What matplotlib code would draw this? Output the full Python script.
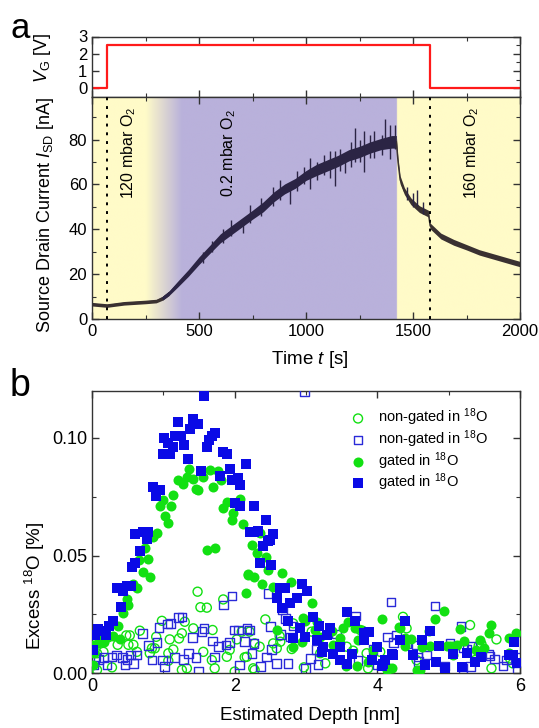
import matplotlib
matplotlib.use('Agg')
import matplotlib.pyplot as plt
from matplotlib.ticker import MultipleLocator, FormatStrFormatter
import numpy as np

plt.rcParams['font.family'] = ['Liberation Sans', 'DejaVu Sans']
plt.rcParams['mathtext.fontset'] = 'custom'
plt.rcParams['mathtext.rm'] = 'Liberation Sans'
plt.rcParams['mathtext.it'] = 'Liberation Sans:italic'
plt.rcParams['mathtext.bf'] = 'Liberation Sans:bold'

# --- panel a: gate voltage steps ---
vg_t = [0, 72, 72, 1580, 1580, 2000]
vg_v = [0, 0, 2.5, 2.5, 0, 0]

# --- panel a: source drain current ---
t_s = [0, 70, 150, 250, 300, 330, 360, 400, 450, 500,
       550, 600, 650, 700, 750, 800, 850, 900, 950, 1000,
       1050, 1100, 1150, 1200, 1250, 1300, 1350, 1400, 1422, 1430,
       1440, 1460, 1490, 1530, 1572, 1580, 1630, 1690, 1750, 1810,
       1890, 1970, 2000]
I_nA = [6.6, 6.0, 7.0, 7.6, 8.0, 9.3, 11.5, 15.5, 20.5, 26,
        31, 36, 39.5, 43, 46.5, 50, 54.5, 58, 60.5, 64,
        66.5, 68.5, 70.5, 73, 74.5, 76.5, 78, 79, 79, 70,
        62, 57, 52.5, 49, 47, 41.5, 37, 34.2, 32, 29.7,
        27.5, 25.3, 24.5]
noise = [0.8, 0.8, 0.8, 0.8, 0.8, 0.9, 1.0, 1.3, 1.5, 1.7,
         1.8, 2, 2, 2, 2, 2.2, 2.2, 2.2, 2.2, 2.2,
         2.5, 2.5, 2.5, 2.5, 2.5, 2.5, 2.5, 2.8, 2.8, 2,
         1.8, 1.5, 1.5, 1.5, 1.5, 1.3, 1.3, 1.3, 1.2, 1.2,
         1.2, 1.2, 1.2]
spike_t = [520, 560, 610, 650, 707, 740, 790, 847, 880, 925,
           960, 990, 1018, 1050, 1085, 1110, 1136, 1160, 1181, 1210,
           1229, 1250, 1271, 1300, 1320, 1354, 1369, 1393, 1416, 1470,
           1500, 1517, 1545]
spike_lo = [25, 30, 34, 37, 38.5, 43, 46, 50.5, 53, 51.5,
            57, 60, 58, 62, 64, 63, 59.5, 66, 65, 68,
            70, 70, 65.5, 72, 72, 73, 77, 71.5, 76, 53,
            50, 50.5, 47]
spike_hi = [30, 35, 40, 44, 43.5, 51, 54, 59, 62, 60,
            66, 68, 72, 70, 73, 75, 75, 76, 74, 79,
            85, 80, 84, 82, 84, 82, 89, 86.5, 86.5, 59,
            56, 57.5, 52]

dotted_t = [72, 1580]
gas_labels = ['120 mbar O$_2$', '0.2 mbar O$_2$', '160 mbar O$_2$']
gas_label_t = [172, 640, 1775]

# --- panel b: SIMS excess 18O ---
ng_circ_x = [0.07, 0.07, 0.16, 0.28, 0.36, 0.48, 0.51, 0.53, 0.58, 0.63, 0.67, 0.81, 0.84, 0.88,
             0.90, 0.98, 1.07, 1.07, 1.09, 1.14, 1.22, 1.26, 1.26, 1.30, 1.33, 1.42, 1.48, 1.52,
             1.56, 1.61, 1.68, 1.69, 1.72, 1.84, 1.89, 1.93, 2.00, 2.03, 2.10, 2.14, 2.17, 2.21,
             2.26, 2.28, 2.28, 2.35, 2.43, 2.54, 2.59, 2.63, 2.64, 2.80, 2.82, 2.97, 3.08, 3.20,
             3.27, 3.48, 3.57, 3.66, 3.76, 3.85, 3.87, 4.04, 4.36, 4.41, 4.55, 5.07, 5.30, 5.37,
             5.42, 5.46, 5.60, 5.67, 5.86, 5.90]
ng_circ_y = [0.0013, 0.0084, 0.009, 0.0024, 0.012, 0.016, 0.012, 0.016, 0.012, 0.009, 0.018, 0.0084, 0.0105, 0.0105,
             0.0154, 0.0222, 0.0084, 0.0052, 0.0143, 0.010, 0.0147, 0.0013, 0.0169, 0.0218, 0.002, 0.019, 0.0346, 0.028,
             0.009, 0.0278, 0.0055, 0.0183, 0.002, 0.0313, 0.0069, 0.0098, 0.0006, 0.0143, 0.0176, 0.0067, 0.0069, 0.0176,
             0.002, 0.0126, 0.0013, 0.0112, 0.0228, 0.0126, 0.0105, 0.0157, 0.0133, 0.0102, 0.0211, 0.0024, 0.0176, 0.0084,
             0.0041, 0.0126, 0.0112, 0.0095, 0.0183, 0.0084, 0.002, 0.009, 0.0239, 0.019, 0.0055, 0.0112, 0.0204, 0.0055,
             0.0115, 0.0123, 0.002, 0.0143, 0.0062, 0.0041]

ng_sq_x = [0.03, 0.04, 0.09, 0.17, 0.21, 0.28, 0.34, 0.43, 0.46, 0.49, 0.54, 0.58, 0.63, 0.71, 0.79, 0.84,
           0.91, 0.94, 0.99, 1.02, 1.06, 1.10, 1.16, 1.21, 1.26, 1.28, 1.35, 1.41, 1.46, 1.49, 1.54, 1.57,
           1.69, 1.72, 1.77, 1.84, 1.88, 1.93, 1.96, 1.99, 2.05, 2.07, 2.14, 2.17, 2.21, 2.24, 2.27, 2.36,
           2.45, 2.47, 2.50, 2.52, 2.59, 2.64, 2.67, 2.71, 2.75, 2.78, 2.82, 2.98, 2.99, 3.06, 3.14, 3.17,
           3.43, 3.69, 3.73, 3.94, 4.00, 4.14, 4.19, 4.23, 4.27, 4.41, 4.55, 4.57, 4.58, 4.69, 4.81, 4.94,
           5.02, 5.17, 5.20, 5.21, 5.26, 5.31, 5.32, 5.56, 5.58, 5.64, 5.76, 5.81, 5.95, 5.96]
ng_sq_y = [0.0034, 0.0062, 0.0058, 0.0065, 0.0034, 0.0069, 0.0077, 0.0067, 0.0034, 0.0058, 0.0077, 0.0041, 0.0077, 0.0169, 0.0116, 0.0055,
           0.013, 0.0193, 0.0055, 0.0027, 0.0208, 0.0211, 0.0065, 0.0237, 0.0239, 0.0058, 0.0084, 0.0152, 0.0067, 0.0006, 0.0176, 0.019,
           0.0136, 0.0069, 0.0112, 0.0289, 0.0119, 0.013, 0.0327, 0.0183, 0.0183, 0.0034, 0.0133, 0.019, 0.0183, 0.0084, 0.0126, 0.0027,
           0.0069, 0.0339, 0.0197, 0.010, 0.0041, 0.0164, 0.0268, 0.0232, 0.0041, 0.0154, 0.020, 0.1195, 0.002, 0.0062, 0.010, 0.0037,
           0.0166, 0.0242, 0.0052, 0.010, 0.0034, 0.0154, 0.0303, 0.0129, 0.0161, 0.0126, 0.0119, 0.0069, 0.0048, 0.0076, 0.0285, 0.003,
           0.0126, 0.0197, 0.002, 0.0109, 0.010, 0.0027, 0.0115, 0.0081, 0.0072, 0.006, 0.003, 0.0055, 0.0069, 0.0006]

g_circ_x = [0.01, 0.02, 0.03, 0.09, 0.11, 0.16, 0.17, 0.23, 0.30, 0.36, 0.39, 0.44, 0.49, 0.50, 0.58, 0.63,
            0.66, 0.71, 0.74, 0.78, 0.82, 0.85, 0.91, 0.96, 0.99, 1.02, 1.06, 1.11, 1.14, 1.20, 1.27, 1.33,
            1.36, 1.42, 1.46, 1.49, 1.55, 1.61, 1.65, 1.69, 1.73, 1.77, 1.81, 1.84, 1.89, 1.96, 1.98, 2.07,
            2.12, 2.16, 2.18, 2.19, 2.24, 2.27, 2.31, 2.35, 2.39, 2.44, 2.47, 2.54, 2.59, 2.66, 2.79, 2.82,
            2.94, 2.96, 2.98, 3.09, 3.12, 3.15, 3.19, 3.36, 3.38, 3.48, 3.52, 3.56, 3.59, 3.69, 3.71, 3.73,
            3.78, 3.80, 3.87, 3.94, 4.07, 4.13, 4.16, 4.21, 4.30, 4.32, 4.39, 4.39, 4.47, 4.55, 4.60, 4.62,
            4.73, 4.74, 4.81, 4.93, 4.97, 5.02, 5.06, 5.11, 5.16, 5.21, 5.38, 5.44, 5.50, 5.57, 5.60, 5.84,
            5.84, 5.95]
g_circ_y = [0.0034, 0.012, 0.0086, 0.0126, 0.0147, 0.0147, 0.013, 0.0154, 0.0157, 0.020, 0.0143, 0.0256, 0.0317, 0.029, 0.038, 0.036,
            0.048, 0.043, 0.053, 0.0487, 0.0407, 0.058, 0.0594, 0.071, 0.0735, 0.0667, 0.064, 0.071, 0.0756, 0.0823, 0.0806, 0.0834,
            0.087, 0.0827, 0.0785, 0.078, 0.0834, 0.0523, 0.0863, 0.0792, 0.0534, 0.086, 0.082, 0.070, 0.0728, 0.065, 0.068, 0.0742,
            0.0636, 0.0342, 0.0416, 0.042, 0.0544, 0.041, 0.0511, 0.0594, 0.038, 0.0494, 0.0438, 0.0364, 0.0183, 0.0424, 0.0388, 0.0112,
            0.0133, 0.0232, 0.0222, 0.030, 0.0183, 0.0218, 0.0152, 0.018, 0.0119, 0.015, 0.019, 0.003, 0.0218, 0.019, 0.003, 0.014,
            0.0183, 0.0176, 0.0048, 0.0098, 0.0228, 0.0013, 0.002, 0.002, 0.0197, 0.019, 0.0147, 0.0115, 0.0146, 0.0013, 0.0013, 0.0112,
            0.018, 0.0115, 0.0228, 0.0265, 0.0115, 0.0115, 0.0076, 0.0119, 0.0187, 0.0137, 0.0098, 0.014, 0.0105, 0.0169, 0.0204, 0.015,
            0.0084, 0.0169]

g_sq_x = [0.01, 0.04, 0.09, 0.16, 0.20, 0.24, 0.30, 0.35, 0.40, 0.43, 0.49, 0.55, 0.56, 0.60, 0.67, 0.60,
          0.71, 0.79, 0.77, 0.85, 0.90, 0.95, 0.99, 1.01, 1.06, 1.09, 1.14, 1.17, 1.21, 1.25, 1.29, 1.34,
          1.37, 1.41, 1.49, 1.53, 1.57, 1.61, 1.64, 1.68, 1.72, 1.80, 1.84, 1.89, 1.93, 1.96, 2.04, 2.07,
          2.00, 2.08, 2.16, 2.27, 2.21, 2.27, 2.33, 2.36, 2.40, 2.44, 2.47, 2.51, 2.54, 2.50, 2.59, 2.64,
          2.70, 2.67, 2.78, 2.75, 2.87, 2.94, 3.02, 2.91, 2.82, 2.99, 3.10, 3.18, 3.15, 3.24, 3.22, 3.30,
          3.34, 3.38, 3.47, 3.48, 3.57, 3.58, 3.64, 3.69, 3.81, 3.82, 3.89, 3.92, 3.99, 4.06, 4.08, 4.11,
          4.20, 4.22, 4.32, 4.39, 4.50, 4.63, 4.67, 4.74, 4.82, 4.86, 4.95, 5.06, 5.18, 5.25, 5.37, 5.45,
          5.84, 5.90, 5.92, 5.96]
g_sq_y = [0.010, 0.016, 0.0186, 0.018, 0.016, 0.020, 0.022, 0.036, 0.028, 0.035, 0.037, 0.037, 0.045, 0.047, 0.052, 0.059,
          0.060, 0.060, 0.057, 0.079, 0.0755, 0.078, 0.093, 0.100, 0.098, 0.093, 0.096, 0.101, 0.107, 0.101, 0.097, 0.091,
          0.104, 0.108, 0.106, 0.086, 0.118, 0.096, 0.099, 0.101, 0.102, 0.084, 0.094, 0.093, 0.087, 0.082, 0.083, 0.080,
          0.0725, 0.071, 0.089, 0.071, 0.060, 0.060, 0.0605, 0.047, 0.054, 0.065, 0.056, 0.046, 0.059, 0.0565, 0.032, 0.036,
          0.036, 0.0275, 0.030, 0.022, 0.032, 0.038, 0.035, 0.019, 0.015, 0.0154, 0.024, 0.020, 0.014, 0.011, 0.009, 0.016,
          0.019, 0.008, 0.0055, 0.011, 0.026, 0.004, 0.008, 0.022, 0.014, 0.017, 0.0176, 0.0055, 0.011, 0.003, 0.004, 0.0055,
          0.008, 0.0077, 0.014, 0.022, 0.0077, 0.014, 0.0034, 0.018, 0.0048, 0.0115, 0.002, 0.008, 0.0024, 0.0084, 0.0048, 0.007,
          0.0077, 0.0077, 0.0133, 0.0041]

GREEN = '#12E012'
BLUE = '#0a0ae6'
BLUE_OPEN = '#2a2ad8'
TRACE = '#2b2444'
TRACE_AIR = '#3a3131'
SPINE = '#333333'

fig = plt.figure(figsize=(5.39, 7.28), dpi=100)
W, H = 539, 728
def box(l, t, r, b):
    return [l / W, 1 - b / H, (r - l) / W, (b - t) / H]

ax_v = fig.add_axes(box(92, 36.5, 520, 97))
ax_i = fig.add_axes(box(92, 97, 520, 319))
ax_b = fig.add_axes(box(92, 391, 520, 673))

def style(ax, size):
    for s in ax.spines.values():
        s.set_color(SPINE)
        s.set_linewidth(1.0)
    ax.tick_params(which='both', direction='in', top=True, right=True,
                   colors=SPINE, labelcolor='black', labelsize=size)
    ax.tick_params(which='major', length=5, width=1)
    ax.tick_params(which='minor', length=3, width=0.8)

# gate voltage
ax_v.plot(vg_t, vg_v, color='#ff1a1a', lw=1.6)
ax_v.set_xlim(0, 2000)
ax_v.set_ylim(-0.5, 3)
ax_v.yaxis.set_major_locator(MultipleLocator(1))
ax_v.yaxis.set_minor_locator(MultipleLocator(0.5))
ax_v.xaxis.set_major_locator(MultipleLocator(500))
ax_v.xaxis.set_minor_locator(MultipleLocator(250))
ax_v.set_xticklabels([])
style(ax_v, 12)
ax_v.tick_params(axis='y', which='minor', left=False)
ax_v.set_ylabel('$V_{\\rm G}$ [V]', fontsize=13)
ax_v.yaxis.set_label_coords(-0.09, 0.64)

# background gas regions
yellow = np.array([255, 251, 200]) / 255
purple = np.array([185, 177, 219]) / 255
grid_t = np.arange(0, 2000)
edge_t = [0, 250, 420, 1424, 1425, 2000]
edge_w = [0, 0, 1, 1, 0, 0]
w = np.interp(grid_t, edge_t, edge_w)[None, :, None]
bg = yellow * (1 - w) + purple * w
ax_i.imshow(bg, extent=[0, 2000, 0, 99], aspect='auto', zorder=0, interpolation='bilinear')

t_arr = np.array(t_s)
I_arr = np.array(I_nA)
n_arr = np.array(noise)
for mask, col in [(t_arr <= 360, TRACE_AIR), ((t_arr >= 330) & (t_arr <= 1422), TRACE), (t_arr >= 1422, TRACE_AIR)]:
    ax_i.fill_between(t_arr[mask], I_arr[mask] - n_arr[mask], I_arr[mask] + n_arr[mask], color=col, lw=0, zorder=2)
    ax_i.plot(t_arr[mask], I_arr[mask], color=col, lw=1.0, zorder=2)
ax_i.vlines(spike_t, spike_lo, spike_hi, color=TRACE, lw=1.0, zorder=2)
for tt in dotted_t:
    ax_i.axvline(tt, color='black', ls=(0, (1.5, 3)), lw=1.4, zorder=3)
for lab, tt in zip(gas_labels, gas_label_t):
    ax_i.text(tt, 74, lab, rotation=90, ha='center', va='center', fontsize=11.5, zorder=4)

ax_i.set_xlim(0, 2000)
ax_i.set_ylim(0, 99)
ax_i.xaxis.set_major_locator(MultipleLocator(500))
ax_i.xaxis.set_minor_locator(MultipleLocator(250))
ax_i.yaxis.set_major_locator(MultipleLocator(20))
ax_i.yaxis.set_minor_locator(MultipleLocator(10))
style(ax_i, 12)
ax_i.set_ylabel('Source Drain Current $I_{\\rm SD}$ [nA]', fontsize=13)
ax_i.yaxis.set_label_coords(-0.085, 0.47)
ax_i.set_xlabel('Time $t$ [s]', fontsize=13.5)
ax_i.xaxis.set_label_coords(0.51, -0.135)

# panel b
ax_b.scatter(ng_circ_x, ng_circ_y, s=42, facecolors='none', edgecolors=GREEN, linewidths=1.0,
             label='non-gated in $^{18}$O', zorder=3)
ax_b.scatter(ng_sq_x, ng_sq_y, s=38, marker='s', facecolors='none', edgecolors=BLUE_OPEN, linewidths=1.0,
             label='non-gated in $^{18}$O', zorder=3)
ax_b.scatter(g_circ_x, g_circ_y, s=52, color=GREEN, lw=0, label='gated in $^{18}$O', zorder=4)
ax_b.scatter(g_sq_x, g_sq_y, s=46, marker='s', color=BLUE, lw=0, label='gated in $^{18}$O', zorder=5)
ax_b.set_xlim(0, 6)
ax_b.set_ylim(0, 0.12)
ax_b.xaxis.set_major_locator(MultipleLocator(2))
ax_b.xaxis.set_minor_locator(MultipleLocator(1))
ax_b.yaxis.set_major_locator(MultipleLocator(0.05))
ax_b.yaxis.set_minor_locator(MultipleLocator(0.025))
ax_b.yaxis.set_major_formatter(FormatStrFormatter('%.2f'))
style(ax_b, 13)
ax_b.set_ylabel('Excess $^{18}$O [%]', fontsize=13.5)
ax_b.yaxis.set_label_coords(-0.105, 0.31)
ax_b.set_xlabel('Estimated Depth [nm]', fontsize=13.5)
ax_b.xaxis.set_label_coords(0.51, -0.12)
ax_b.legend(loc='upper right', bbox_to_anchor=(0.94, 0.965), frameon=False, fontsize=10.5,
            handletextpad=0.4, labelspacing=0.0, borderaxespad=0, scatterpoints=1)

fig.text(10 / W, 1 - 12 / H, 'a', fontsize=25, va='top', ha='left')
fig.text(10 / W, 1 - 368 / H, 'b', fontsize=27, va='top', ha='left')

fig.savefig('out.png', dpi=100)
